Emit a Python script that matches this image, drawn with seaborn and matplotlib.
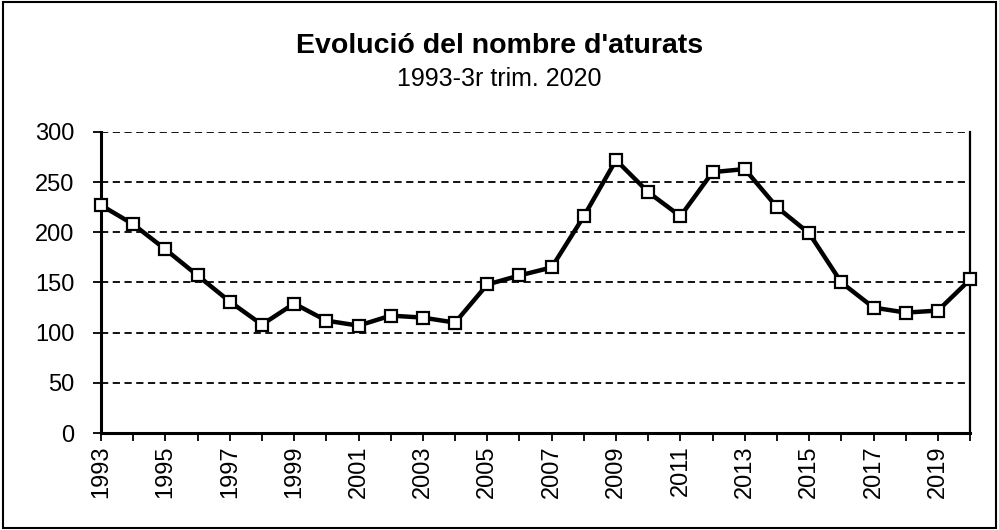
import numpy as np
import pandas as pd
import matplotlib
matplotlib.use("Agg")
import matplotlib.pyplot as plt
import seaborn as sns
from matplotlib.patches import Rectangle

years = list(range(1993, 2021))
aturats = [227, 208, 183, 157, 131, 108, 129, 112, 107, 117, 115, 110,
           148, 157, 165, 216, 272, 240, 216, 260, 263, 225, 199, 150,
           125, 120, 122, 153]
xtick_years = list(range(1993, 2021, 2))
yticks = [0, 50, 100, 150, 200, 250, 300]

df = pd.DataFrame({"any": years, "aturats": aturats})

sns.set_theme(style="white")
plt.rcParams["font.family"] = ["Liberation Sans", "DejaVu Sans"]
plt.rcParams["text.color"] = "black"

fig = plt.figure(figsize=(9.99, 5.30), dpi=100)
ax = fig.add_axes([0.1011, 0.183, 0.870, 0.568])

for v in yticks[1:]:
    ax.axhline(v, color="black", linestyle=(0, (4, 2.5)), linewidth=1.3, zorder=1)

sns.lineplot(data=df, x="any", y="aturats", ax=ax, color="black", linewidth=3.2,
             marker="s", markersize=9, markerfacecolor="white",
             markeredgecolor="black", markeredgewidth=1.6, clip_on=False, zorder=3)

ax.set_xlim(1993, 2020)
ax.set_ylim(0, 300)
ax.set_yticks(yticks)
ax.set_xticks(years)
ax.set_xticklabels([str(y) if y in xtick_years else "" for y in years], rotation=90)
ax.tick_params(axis="both", direction="out", length=6, width=1.3, color="black",
               labelsize=17, labelcolor="black", bottom=True, left=True)
ax.tick_params(axis="x", pad=3)
ax.tick_params(axis="y", pad=13)
ax.set_xlabel("")
ax.set_ylabel("")

for s in ["left", "bottom", "right"]:
    ax.spines[s].set_visible(True)
    ax.spines[s].set_color("black")
ax.spines["left"].set_linewidth(2.2)
ax.spines["bottom"].set_linewidth(2.2)
ax.spines["right"].set_linewidth(1.6)
ax.spines["top"].set_visible(False)

fig.text(0.5, 0.913, "Evolució del nombre d'aturats", ha="center", va="center",
         fontsize=20.5, fontweight="bold", color="black")
fig.text(0.5, 0.851, "1993-3r trim. 2020", ha="center", va="center", fontsize=18,
         color="black")

fig.patches.append(Rectangle((0.003, 0.004), 0.994, 0.992, transform=fig.transFigure,
                             fill=False, edgecolor="black", linewidth=1.5))

fig.savefig("out.png", dpi=100)
